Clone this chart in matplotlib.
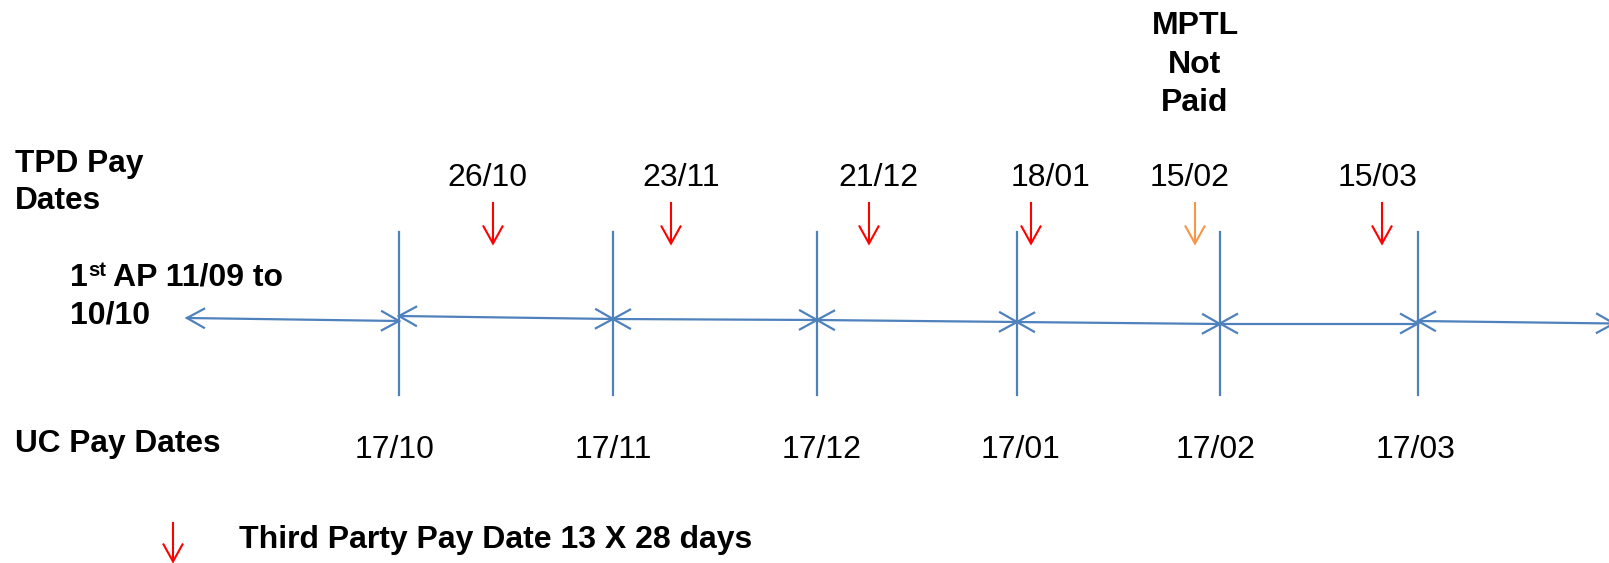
import matplotlib
matplotlib.use("Agg")
import matplotlib.pyplot as plt
import numpy as np

# ---------------- data ----------------
uc_dates = ['17/10', '17/11', '17/12', '17/01', '17/02', '17/03']
uc_line_x = [399, 613, 817, 1017, 1220, 1418]          # timeline position of each UC pay date
uc_label_x = [395, 613, 822, 1021, 1216, 1416]

tpd_dates = ['26/10', '23/11', '21/12', '18/01', '15/02', '15/03']
tpd_label_x = [487.5, 681, 878.5, 1051, 1190, 1378]
tpd_arrow_x = [493, 671, 869, 1031, 1195, 1382]
tpd_paid = [True, True, True, True, False, True]

# assessment-period segments: start x, end x, start y, end y
seg_x0 = [187, 399, 613, 817, 1017, 1220, 1418]
seg_x1 = [399, 613, 817, 1017, 1220, 1418, 1614]
seg_y0 = [318, 316, 319, 320, 322, 323.5, 321]
seg_y1 = [321, 319, 320, 322, 324, 323.5, 323.5]

# ---------------- style ----------------
W, H = 1609, 563
BLUE = '#4F81BD'
RED = '#FF0000'
ORANGE = '#F79646'
FONT = 'Liberation Sans'

fig = plt.figure(figsize=(W / 100, H / 100), dpi=100)
ax = fig.add_axes([0, 0, 1, 1])
ax.set_xlim(0, W)
ax.set_ylim(H, 0)
ax.axis('off')


def head(tx, ty, dx, dy, color, L=18, HW=10, lw=1.6):
    n = np.hypot(dx, dy)
    dx, dy = dx / n, dy / n
    px, py = -dy, dx
    bx, by = tx - L * dx, ty - L * dy
    ax.plot([bx + HW * px, tx, bx - HW * px], [by + HW * py, ty, by - HW * py],
            color=color, lw=lw, solid_capstyle='butt', solid_joinstyle='miter')


# vertical UC lines
for x in uc_line_x:
    ax.plot([x, x], [232, 395], color=BLUE, lw=1.6)

# double-headed period arrows
for x0, x1, y0, y1 in zip(seg_x0, seg_x1, seg_y0, seg_y1):
    ax.plot([x0, x1], [y0, y1], color=BLUE, lw=1.6)
    head(x1, y1, x1 - x0, y1 - y0, BLUE)
    head(x0, y0, x0 - x1, y0 - y1, BLUE)

# TPD arrows and labels
for lab, lx, axx, paid in zip(tpd_dates, tpd_label_x, tpd_arrow_x, tpd_paid):
    c = RED if paid else ORANGE
    ax.plot([axx, axx], [203, 243], color=c, lw=1.5)
    head(axx, 243.5, 0, 1, c, lw=1.5)
    ax.text(lx, 185.5, lab, family=FONT, fontsize=23, ha='center', va='baseline')

# UC labels
for lab, lx in zip(uc_dates, uc_label_x):
    ax.text(lx, 458, lab, family=FONT, fontsize=23, ha='center', va='baseline')

# left-hand labels
bold = dict(family=FONT, fontweight='bold', va='baseline', ha='left')
ax.text(15, 172, 'TPD Pay', fontsize=22.8, **bold)
ax.text(15, 209, 'Dates', fontsize=22.8, **bold)
ax.text(70, 286, '1', fontsize=23, **bold)
ax.text(88, 276, 'st', fontsize=14.5, **bold)
ax.text(113, 286, 'AP 11/09 to', fontsize=23, **bold)
ax.text(70, 323, '10/10', fontsize=23, **bold)
ax.text(15, 452, 'UC Pay Dates', fontsize=22.8, **bold)

# MPTL note
for t, yb in zip(['MPTL', 'Not', 'Paid'], [34, 73, 111]):
    ax.text(1195, yb, t, family=FONT, fontweight='bold', fontsize=23,
            ha='center', va='baseline')

# legend
ax.plot([173, 173], [523, 561], color=RED, lw=1.5)
head(173, 561.5, 0, 1, RED, lw=1.5)
ax.text(239, 548, 'Third Party Pay Date 13 X 28 days', fontsize=23, **bold)

fig.savefig('out.png', dpi=100)
